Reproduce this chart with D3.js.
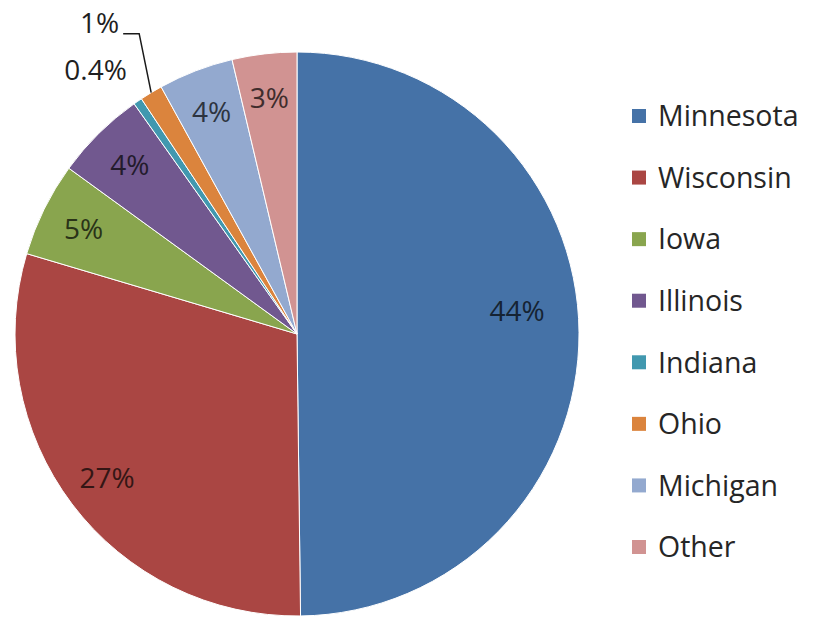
<!DOCTYPE html>
<html>
<head>
<meta charset="utf-8">
<style>
 body { margin: 0; background: #fff; }
 svg { font-family: "Open Sans", sans-serif; }
 .lbl { font-size: 28px; }
 .leg { font-size: 28.5px; fill: #262626; }
</style>
</head>
<body>
<svg width="814" height="618"></svg>
<script src="https://cdn.jsdelivr.net/npm/d3@7/dist/d3.min.js"></script>
<script>
var states = ["Minnesota", "Wisconsin", "Iowa", "Illinois", "Indiana", "Ohio", "Michigan", "Other"];
var shares = [49.8, 29.8, 5.4, 5.2, 0.5, 1.3, 4.3, 3.7];
var labels = ["44%", "27%", "5%", "4%", "0.4%", "1%", "4%", "3%"];
var colors = ["#4572A7", "#AA4643", "#89A54E", "#71588F", "#4198AF", "#DB843D", "#93A9CF", "#D19392"];

var svg = d3.select("svg");
var cx = 297, cy = 334, R = 282;

var data = states.map(function(s, i) {
    return { name: s, value: shares[i], label: labels[i], color: colors[i] };
});

var pie = d3.pie().sort(null).value(function(d) { return d.value; });
var arcs = pie(data);
var arc = d3.arc().innerRadius(0).outerRadius(R);
var labelArc = d3.arc().innerRadius(238).outerRadius(238);

var g = svg.append("g").attr("transform", "translate(" + cx + "," + cy + ")");

g.selectAll("path.slice")
    .data(arcs)
    .enter().append("path")
    .attr("class", "slice")
    .attr("d", arc)
    .attr("fill", function(d) { return d.data.color; })
    .attr("stroke", "#fff")
    .attr("stroke-width", 1);

// labels inside the bigger slices
g.selectAll("text.in")
    .data(arcs.filter(function(d) { return d.data.value >= 2; }))
    .enter().append("text")
    .attr("class", "lbl")
    .attr("text-anchor", "middle")
    .attr("dy", "0.36em")
    .attr("transform", function(d) {
        var c = labelArc.centroid(d);
        if (d.index === 0) { c = [c[0] - 18, c[1] - 22]; }
        return "translate(" + c + ")";
    })
    .attr("fill", function(d) { return d3.color(d.data.color).darker(3.3); })
    .text(function(d) { return d.data.label; });

// small slices get their labels outside
var small = arcs.filter(function(d) { return d.data.value < 2; });
small.forEach(function(d) {
    var mid = (d.startAngle + d.endAngle) / 2;
    var ex = Math.sin(mid) * R, ey = -Math.cos(mid) * R;
    if (d.data.name === "Ohio") {
        var kx = ex - 12, ky = ey - 59;
        g.append("path")
            .attr("d", "M" + ex + "," + ey + "L" + kx + "," + ky + "L" + (kx - 16) + "," + ky)
            .attr("fill", "none")
            .attr("stroke", "#1a1a1a")
            .attr("stroke-width", 1.5);
        g.append("text")
            .attr("class", "lbl")
            .attr("text-anchor", "end")
            .attr("dy", "0.36em")
            .attr("x", kx - 20)
            .attr("y", ky - 11)
            .attr("fill", "#1f1f1f")
            .text(d.data.label);
    } else {
        var lr = R + 50;
        g.append("text")
            .attr("class", "lbl")
            .attr("text-anchor", "middle")
            .attr("dy", "0.36em")
            .attr("x", Math.sin(mid) * lr - 14)
            .attr("y", -Math.cos(mid) * lr + 10)
            .attr("fill", "#1f1f1f")
            .text(d.data.label);
    }
});

// legend
var ly = d3.scalePoint().domain(states).range([116, 547]);
var leg = svg.append("g").selectAll("g")
    .data(data)
    .enter().append("g")
    .attr("transform", function(d) { return "translate(632," + ly(d.name) + ")"; });
leg.append("rect")
    .attr("x", 0).attr("y", -7)
    .attr("width", 14).attr("height", 14)
    .attr("fill", function(d) { return d.color; });
leg.append("text")
    .attr("class", "leg")
    .attr("x", 26)
    .attr("dy", "0.36em")
    .text(function(d) { return d.name; });
</script>
</body>
</html>
